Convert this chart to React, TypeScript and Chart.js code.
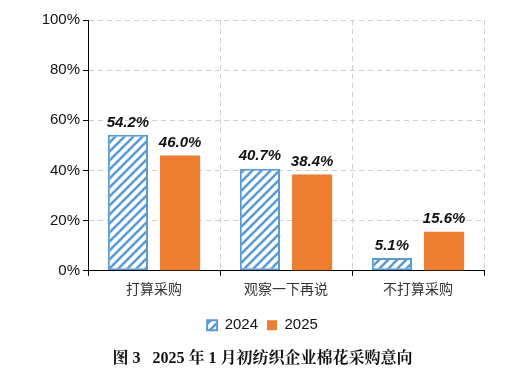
import React, { useEffect, useRef } from "react";
import { Chart, registerables } from "chart.js";

Chart.register(...registerables);

const categories = ["打算采购", "观察一下再说", "不打算采购"];
const series2024 = [54.2, 40.7, 5.1];
const series2025 = [46.0, 38.4, 15.6];
const seriesNames = ["2024", "2025"];
const yTicks = [0, 20, 40, 60, 80, 100];
const titleText = "图 3   2025 年 1 月初纺织企业棉花采购意向";

const BLUE = "#5B9BD5";
const ORANGE = "#ED7D31";

function makeHatch(): CanvasPattern | string {
  const c = document.createElement("canvas");
  const s = 9;
  c.width = s;
  c.height = s;
  const ctx = c.getContext("2d");
  if (!ctx) return BLUE;
  ctx.fillStyle = "#ffffff";
  ctx.fillRect(0, 0, s, s);
  ctx.strokeStyle = BLUE;
  ctx.lineWidth = 2.6;
  ctx.beginPath();
  ctx.moveTo(-2, s + 2);
  ctx.lineTo(s + 2, -2);
  ctx.moveTo(-2, 2);
  ctx.lineTo(2, -2);
  ctx.moveTo(s - 2, s + 2);
  ctx.lineTo(s + 2, s - 2);
  ctx.stroke();
  return ctx.createPattern(c, "repeat") || BLUE;
}

const valueLabels = {
  id: "valueLabels",
  afterDatasetsDraw(chart: any) {
    const ctx = chart.ctx;
    ctx.save();
    ctx.font = "italic bold 15px 'Liberation Sans', Arial, sans-serif";
    ctx.fillStyle = "#111";
    ctx.textAlign = "center";
    ctx.textBaseline = "bottom";
    chart.data.datasets.forEach((ds: any, di: number) => {
      const meta = chart.getDatasetMeta(di);
      meta.data.forEach((el: any, i: number) => {
        ctx.fillText(ds.data[i].toFixed(1) + "%", el.x, el.y - 5);
      });
    });
    ctx.restore();
  },
};

export default function App() {
  const ref = useRef<HTMLCanvasElement>(null);
  useEffect(() => {
    if (!ref.current) return;
    const hatch = makeHatch();
    const chart = new Chart(ref.current, {
      type: "bar",
      data: {
        labels: categories,
        datasets: [
          {
            label: seriesNames[0],
            data: series2024,
            backgroundColor: hatch as any,
            borderColor: BLUE,
            borderWidth: 2,
            borderSkipped: false,
          },
          {
            label: seriesNames[1],
            data: series2025,
            backgroundColor: ORANGE,
            borderWidth: 0,
          },
        ],
      },
      options: {
        animation: false,
        responsive: true,
        maintainAspectRatio: false,
        categoryPercentage: 0.79,
        barPercentage: 0.77,
        layout: { padding: { left: 0, right: 0, top: 20, bottom: 5 } },
        scales: {
          x: {
            afterFit: (s: any) => {
              s.height = 38;
            },
            grid: {
              color: "#cfcfcf",
              tickColor: "#000",
              tickLength: 5,
              tickBorderDash: [],
              offset: true,
            },
            border: { display: true, color: "#000", width: 1, dash: [5, 4] },
            ticks: {
              color: "#333",
              padding: 6,
              font: { family: "'Liberation Serif', 'Noto Sans CJK SC', serif", size: 14 },
            },
          },
          y: {
            min: 0,
            max: 100,
            afterFit: (s: any) => {
              s.width = 88;
            },
            afterBuildTicks: (s: any) => {
              s.ticks = yTicks.map((v) => ({ value: v }));
            },
            grid: {
              color: "#cfcfcf",
              tickColor: "#000",
              tickLength: 5,
              tickBorderDash: [],
            },
            border: { display: true, color: "#000", width: 1, dash: [5, 4] },
            ticks: {
              color: "#111",
              padding: 3,
              callback: (v: any) => v + "%",
              font: { family: "'Liberation Sans', Arial, sans-serif", size: 15 },
            },
          },
          yRight: {
            type: "linear",
            position: "right",
            min: 0,
            max: 100,
            afterFit: (s: any) => {
              s.width = 41;
            },
            grid: { display: false, drawOnChartArea: false },
            border: { display: false },
            ticks: { display: false },
          },
        },
        plugins: {
          tooltip: { enabled: false },
          legend: {
            position: "bottom",
            labels: {
              boxWidth: 10,
              boxHeight: 10,
              color: "#111",
              padding: 9,
              font: { family: "'Liberation Sans', Arial, sans-serif", size: 15 },
            },
          },
          title: {
            display: true,
            position: "bottom",
            text: titleText,
            color: "#111",
            padding: { top: 6, bottom: 4 },
            font: {
              family: "'Liberation Serif', 'Noto Serif CJK SC', 'Noto Sans CJK SC', serif",
              size: 16,
              weight: "bold",
            },
          },
        },
      },
      plugins: [valueLabels],
    });
    return () => chart.destroy();
  }, []);
  return (
    <div style={{ position: "fixed", left: 0, top: 0, width: 525, height: 377, background: "#fff" }}>
      <canvas ref={ref} />
    </div>
  );
}
